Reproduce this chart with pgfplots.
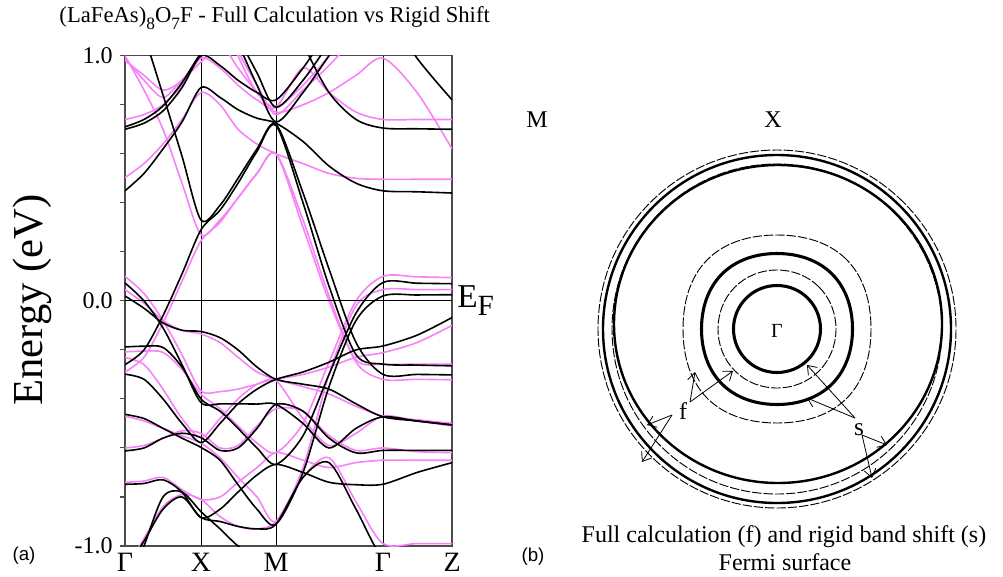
\documentclass[border=0pt]{standalone}
\usepackage{fontspec}
\setmainfont{Liberation Serif}
\setsansfont{Liberation Sans}
\usepackage{pgfplots}
\usepackage{pgfplotstable}
\pgfplotsset{compat=1.18}
\usetikzlibrary{arrows.meta}
\definecolor{rigid}{RGB}{248,128,248}

% full calculation bands (black), k in plot units: G=0 X=76 M=151 G=258 Z=327
\pgfplotstableread{
k    b1     b2     b3     b4     b5     b6     b7     b8     b9     b10    b11    b12    b13    b14    b15    b16
0    0.700  0.710  1.250 -0.260  0.449  1.300  0.020  0.073 -0.188 -0.299 -0.463 -0.612 -0.748 -1.100 -1.200  1.300
19   0.725  0.740  1.080 -0.200  0.520  1.300 -0.030  0.000 -0.185 -0.320 -0.480 -0.600 -0.745 -0.980 -1.000  1.300
38   0.775  0.795  0.840 -0.060  0.620  1.300 -0.090 -0.110 -0.190 -0.400 -0.520 -0.560 -0.730 -0.850 -0.800  1.300
57   0.870  0.890  0.590  0.110  0.730  1.300 -0.120 -0.260 -0.270 -0.500 -0.560 -0.540 -0.780 -0.800 -0.780  1.300
76   1.000  1.010  0.330  0.290  0.870  1.300 -0.125 -0.415 -0.400 -0.578 -0.598 -0.558 -0.884 -0.884 -0.860  1.300
95   0.960  1.080  0.390  0.370  0.830  1.200 -0.150 -0.420 -0.450 -0.500 -0.650 -0.610 -0.850 -0.900 -0.930  1.250
113  0.900  1.150  0.500  0.480  0.780  1.050 -0.200 -0.420 -0.520 -0.420 -0.750 -0.600 -0.780 -0.920 -1.000  1.080
132  0.850  1.200  0.620  0.610  0.745  0.880 -0.270 -0.421 -0.600 -0.360 -0.850 -0.520 -0.710 -0.930 -1.050  0.930
151  0.820  1.300  0.720  0.715  0.725  0.730 -0.320 -0.422 -0.667 -0.320 -0.911 -0.422 -0.667 -0.911 -1.100  0.790
178  0.950  1.050  0.440  0.400  0.650  0.850 -0.340 -0.500 -0.550 -0.290 -0.700 -0.450 -0.700 -0.720 -1.100  0.900
204  1.100  0.850  0.130  0.060  0.550  1.000 -0.360 -0.600 -0.300 -0.250 -0.350 -0.560 -0.740 -0.660 -1.100  1.050
231  1.200  0.740 -0.170 -0.220  0.480  1.150 -0.420 -0.520 -0.050 -0.200 -0.080 -0.620 -0.750 -0.850 -1.100  1.200
258  1.200  0.705 -0.300 -0.258  0.449  1.200 -0.473 -0.473  0.075 -0.184  0.020 -0.610 -0.748 -1.050 -1.100  1.300
292  1.200  0.702 -0.300 -0.262  0.445  0.990 -0.490 -0.490  0.072 -0.140  0.024 -0.610 -0.700 -1.100 -1.100  1.300
327  1.200  0.700 -0.302 -0.265  0.440  0.820 -0.506 -0.506  0.070 -0.068  0.025 -0.610 -0.660 -1.100 -1.100  1.300
}\fulltab

% rigid band shift (magenta)
\pgfplotstableread{
k    m1     m2     m3     m4     m5     m6     m7     m8     m9     m10    m11    m12    m13    m14    m15    m16
0    0.740  0.980  1.000 -0.290  0.503  1.300  0.046  0.100 -0.208 -0.231 -0.470 -0.600 -0.740 -1.100  1.300  0.990
19   0.760  0.920  0.860 -0.230  0.560  1.300 -0.010  0.030 -0.205 -0.260 -0.490 -0.590 -0.735 -0.970  1.300  0.900
38   0.800  0.860  0.700 -0.090  0.640  1.300 -0.080 -0.080 -0.210 -0.360 -0.520 -0.560 -0.720 -0.840  1.300  0.830
57   0.880  0.900  0.480  0.080  0.740  1.300 -0.120 -0.220 -0.280 -0.480 -0.550 -0.530 -0.770 -0.790  1.300  0.900
76   0.990  1.000  0.270  0.245  0.850  1.300 -0.135 -0.367 -0.380 -0.558 -0.580 -0.540 -0.810 -0.810  1.300  0.975
95   0.950  1.050  0.330  0.320  0.800  1.200 -0.170 -0.370 -0.440 -0.480 -0.640 -0.600 -0.800 -0.880  1.200  1.050
113  0.880  0.950  0.420  0.420  0.700  1.000 -0.230 -0.360 -0.510 -0.400 -0.720 -0.590 -0.740 -0.920  1.020  1.150
132  0.820  0.850  0.520  0.520  0.640  0.850 -0.290 -0.340 -0.580 -0.340 -0.800 -0.510 -0.680 -0.930  0.880  1.250
151  0.790  0.770  0.600  0.600  0.600  0.790 -0.320 -0.325 -0.619 -0.320 -0.900 -0.440 -0.619 -0.900  0.760  1.300
178  0.950  0.800  0.330  0.300  0.560  0.880 -0.350 -0.480 -0.500 -0.300 -0.680 -0.450 -0.650 -0.720  0.860  1.300
204  0.850  0.850  0.020  0.000  0.520  1.000 -0.380 -0.590 -0.250 -0.270 -0.300 -0.550 -0.680 -0.640  0.960  1.300
231  0.770  0.920 -0.250 -0.240  0.500  1.150 -0.430 -0.540  0.000 -0.230 -0.020 -0.610 -0.660 -0.820  1.080  1.300
258  0.740  0.990 -0.320 -0.258  0.496  1.300 -0.470 -0.470  0.100 -0.211  0.046 -0.600 -0.650 -0.990  1.200  1.300
292  0.740  0.850 -0.320 -0.258  0.496  1.300 -0.485 -0.490  0.098 -0.170  0.046 -0.615 -0.650 -0.990  1.300  1.300
327  0.740  0.620 -0.322 -0.258  0.496  1.300 -0.500 -0.510  0.095 -0.100  0.046 -0.619 -0.650 -0.990  1.300  1.300
}\rigidtab

\begin{document}
\begin{tikzpicture}
\useasboundingbox (0,0) rectangle (752.25pt,-432pt);

% (a) band structure
\begin{axis}[
    at={(93.75pt,-41.8pt)}, anchor=north west,
    scale only axis, width=245.25pt, height=367.7pt,
    xmin=0, xmax=327, ymin=-1, ymax=1,
    xtick={0,76,151,258,327},
    xticklabels={Γ,X,M,Γ,Z},
    ytick={-1,0,1},
    yticklabels={-1.0,0.0,1.0},
    minor ytick={-0.8,-0.6,-0.4,-0.2,0.2,0.4,0.6,0.8},
    tick align=outside, ytick pos=left,
    major tick length=4pt, minor tick length=4pt,
    xtick style={draw=none},
    ytick style={gray!60!black, line width=0.8pt},
    xmajorgrids,
    major grid style={black, line width=0.7pt},
    axis line style={gray!60!black, line width=0.9pt},
    xticklabel style={font=\fontsize{21}{21}\selectfont, inner sep=0pt, yshift=-1pt},
    yticklabel style={font=\fontsize{18}{18}\selectfont, inner sep=5pt},
]
\pgfplotsinvokeforeach{m1,m2,m3,m4,m5,m6,m7,m8,m9,m10,m11,m12,m13,m14,m15,m16}{
  \addplot[rigid, line width=1.2pt, smooth] table[x=k, y=#1] {\rigidtab};
}
\pgfplotsinvokeforeach{b1,b2,b3,b4,b5,b6,b7,b8,b9,b10,b11,b12,b13,b14,b15,b16}{
  \addplot[black, line width=1.2pt, smooth] table[x=k, y=#1] {\fulltab};
}
\addplot[black, line width=0.7pt] coordinates {(0,0) (327,0)};
\end{axis}

\node at (206pt,-13.5pt) {\fontsize{17}{17}\selectfont (LaFeAs)\raisebox{-5pt}{\fontsize{13}{13}\selectfont 8}O\raisebox{-5pt}{\fontsize{13}{13}\selectfont 7}F - Full Calculation vs Rigid Shift};
\node[rotate=90] at (24pt,-225pt) {\fontsize{32}{32}\selectfont Energy (eV)};
\node[anchor=base west, inner sep=0pt] at (342.75pt,-230.25pt)
  {\fontsize{25}{25}\selectfont E\raisebox{-6pt}{\fontsize{22}{22}\selectfont F}};
\node at (18pt,-417pt) {\sffamily\fontsize{14}{14}\selectfont (a)};

% (b) Fermi surface, plot units = pixels, origin at Gamma
\begin{axis}[
    at={(372.75pt,0pt)}, anchor=north west,
    scale only axis, width=379.5pt, height=432pt,
    xmin=-280, xmax=226, ymin=-247, ymax=329,
    hide axis, clip=false,
]
% rigid shift contours (dashed)
\addplot[black, line width=0.7pt, dash pattern=on 7pt off 1.5pt, smooth cycle, tension=0.68] coordinates {
  (59,0) (42,42) (0,59) (-42,42) (-59,0) (-42,-42) (0,-59) (42,-42)};
\addplot[black, line width=0.7pt, dash pattern=on 7pt off 1.5pt, smooth cycle, tension=0.68] coordinates {
  (94,0) (69.5,69.5) (0,94) (-69.5,69.5) (-94,0) (-69.5,-69.5) (0,-94) (69.5,-69.5)};
\addplot[black, line width=0.7pt, dash pattern=on 7pt off 1.5pt, smooth cycle, tension=0.68] coordinates {
  (165,0) (116.7,116.7) (0,165) (-116.7,116.7) (-165,0) (-116.7,-116.7) (0,-165) (116.7,-116.7)};
\addplot[black, line width=0.7pt, dash pattern=on 7pt off 1.5pt, smooth cycle, tension=0.68] coordinates {
  (179,0) (126.6,126.6) (0,179) (-126.6,126.6) (-179,0) (-126.6,-126.6) (0,-179) (126.6,-126.6)};
% full calculation contours (solid)
\addplot[black, line width=2.3pt, smooth cycle, tension=0.68] coordinates {
  (43.5,0) (30.8,30.8) (0,43.5) (-30.8,30.8) (-43.5,0) (-30.8,-30.8) (0,-43.5) (30.8,-30.8)};
\addplot[black, line width=2.3pt, smooth cycle, tension=0.68] coordinates {
  (75.5,0) (55,55) (0,75.5) (-55,55) (-75.5,0) (-55,-55) (0,-75.5) (55,-55)};
\addplot[black, line width=1.8pt, smooth cycle, tension=0.68] coordinates {
  (165,5) (117,117.4) (1,164) (-115,117.4) (-163,5) (-115,-107.4) (1,-154) (117,-107.4)};
\addplot[black, line width=1.8pt, smooth cycle, tension=0.68] coordinates {
  (174,0) (123,123) (0,174) (-123,123) (-174,0) (-123,-123) (0,-174) (123,-123)};

\begin{scope}[line width=0.6pt, -{Straight Barb[length=6pt,width=9pt]}]
\draw (axis cs:-87,-73) -- (axis cs:-82,-43);
\draw (axis cs:-87,-73) -- (axis cs:-44,-42);
\draw (axis cs:-105,-86) -- (axis cs:-130,-96);
\draw (axis cs:-105,-86) -- (axis cs:-135,-133);
\draw (axis cs:78,-89) -- (axis cs:30,-36);
\draw (axis cs:78,-89) -- (axis cs:30,-69);
\draw (axis cs:85,-106) -- (axis cs:110,-116);
\draw (axis cs:85,-106) -- (axis cs:95,-149);
\end{scope}

\node at (axis cs:-94,-82) {\fontsize{18}{18}\selectfont f};
\node at (axis cs:82,-101) {\fontsize{19}{19}\selectfont s};
\node at (axis cs:0,-2) {\fontsize{15}{15}\selectfont Γ};
\node at (axis cs:-240,209) {\fontsize{18}{18}\selectfont M};
\node at (axis cs:-4,209) {\fontsize{18}{18}\selectfont X};
\node at (axis cs:7,-208) {\fontsize{18}{18}\selectfont Full calculation (f) and rigid band shift (s)};
\node at (axis cs:8,-233) {\fontsize{18}{18}\selectfont Fermi surface};
\node at (axis cs:-244,-228) {\sffamily\fontsize{14}{14}\selectfont (b)};
\end{axis}
\end{tikzpicture}
\end{document}
